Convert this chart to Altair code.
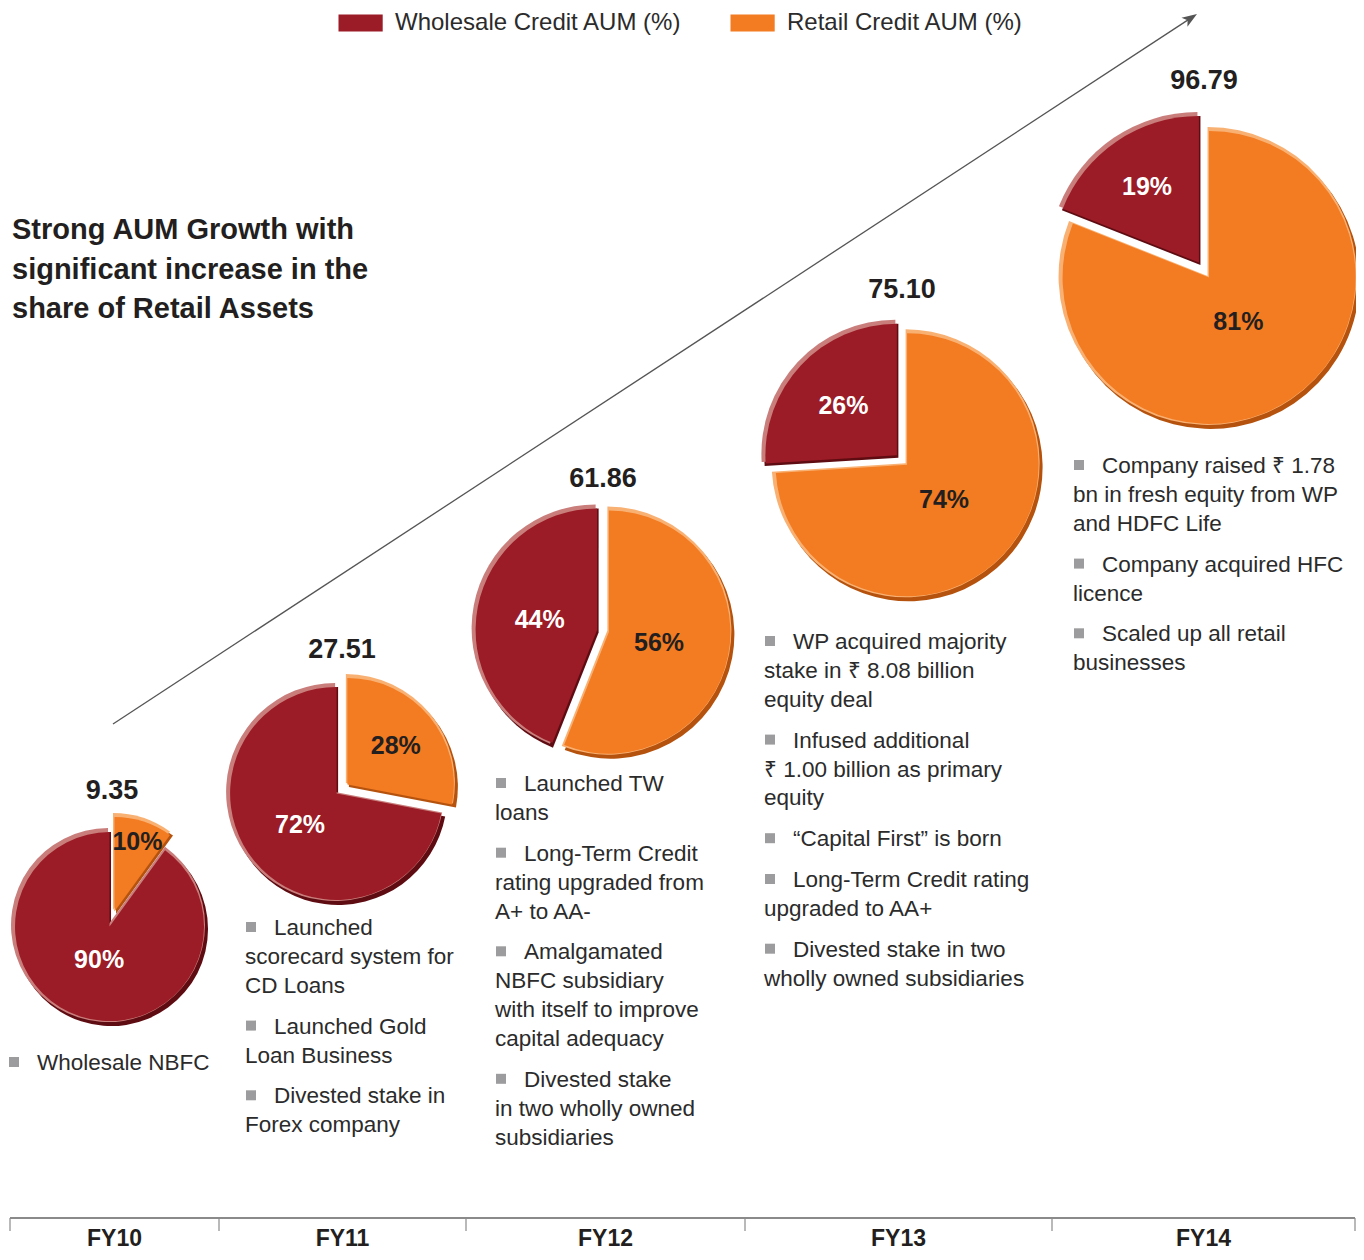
import math
import altair as alt
import pandas as pd

# ---------------- data ----------------
years = ["FY10", "FY11", "FY12", "FY13", "FY14"]
aum = [9.35, 27.51, 61.86, 75.10, 96.79]
wholesale_pct = [90, 72, 44, 26, 19]
retail_pct = [10, 28, 56, 74, 81]
segments = ["Wholesale Credit AUM (%)", "Retail Credit AUM (%)"]
title_lines = ["Strong AUM Growth with", "significant increase in the", "share of Retail Assets"]
milestones = [
    [["Wholesale NBFC"]],
    [["Launched", "scorecard system for", "CD Loans"],
     ["Launched Gold", "Loan Business"],
     ["Divested stake in", "Forex company"]],
    [["Launched TW", "loans"],
     ["Long-Term Credit", "rating upgraded from", "A+ to AA-"],
     ["Amalgamated", "NBFC subsidiary", "with itself to improve", "capital adequacy"],
     ["Divested stake", "in two wholly owned", "subsidiaries"]],
    [["WP acquired majority", "stake in \u20b9 8.08 billion", "equity deal"],
     ["Infused additional", "\u20b9 1.00 billion as primary", "equity"],
     ["\u201cCapital First\u201d is born"],
     ["Long-Term Credit rating", "upgraded to AA+"],
     ["Divested stake in two", "wholly owned subsidiaries"]],
    [["Company raised \u20b9 1.78", "bn in fresh equity from WP", "and HDFC Life"],
     ["Company acquired HFC", "licence"],
     ["Scaled up all retail", "businesses"]],
]

# ---------------- layout (page pixel positions) ----------------
W, H, OFF = 1348, 1244, 8
pie_cx = [112, 342, 603, 902, 1204]
pie_cy = [919, 789, 631, 460, 270]
pie_r = [97, 109, 124, 134, 149]
explode = [8, 7, 6, 7, 9]
lab_frac_w = [0.43, 0.50, 0.52, 0.60, 0.68]
lab_frac_r = [0.85, 0.64, 0.46, 0.43, 0.41]
value_y = [799, 658, 487, 298, 89]
block_left = [8, 245, 495, 764, 1073]
block_top = [1062, 927, 783, 641, 465]
LINE_H, PARA_GAP = 28.9, 11.9
axis_y, tick_len = 1218, 13
axis_bounds = [10, 219, 466, 745, 1052, 1355]
fy_bottom = 1251
arrow_start, arrow_tip = (113, 724), (1197, 14)
title_x, title_y0, title_lh = 12, 239, 39.5

RED, ORANGE = "#9B1B26", "#F37B21"
DARK = {segments[0]: "#5E0C12", segments[1]: "#B5530E"}
LIGHT = {segments[0]: "#C97E7C", segments[1]: "#F9B173"}
TXT = "#2B2B2B"
BOLD = "Liberation Sans, Arial, sans-serif"
SANS = "Liberation Sans, Arial, sans-serif"

xs = alt.Scale(domain=[OFF, OFF + W], range=[0, W], nice=False, zero=False)
ys = alt.Scale(domain=[OFF, OFF + H], range=[0, H], nice=False, zero=False)


def X(f):
    return alt.X(f, type="quantitative", scale=xs, axis=None)


def Y(f):
    return alt.Y(f, type="quantitative", scale=ys, axis=None)


# ---------------- slices ----------------
slices, plabels = [], []
for i, yr in enumerate(years):
    rt = retail_pct[i] / 100 * 2 * math.pi
    parts = [(segments[1], retail_pct[i], 0.0, rt, lab_frac_r[i], "#231F20"),
             (segments[0], wholesale_pct[i], rt, 2 * math.pi, lab_frac_w[i], "#FFFFFF")]
    for seg, pct, t0, t1, frac, tc in parts:
        mid = (t0 + t1) / 2
        dx, dy = math.sin(mid), -math.cos(mid)
        sx = pie_cx[i] + explode[i] * dx
        sy = pie_cy[i] + explode[i] * dy
        slices.append(dict(year=yr, seg=seg, pct=pct, t0=t0, t1=t1, r=pie_r[i],
                           ri=pie_r[i] - 2.5, sx=sx, sy=sy,
                           dx_=sx + 1.5, dy_=sy + 2.5, lx=sx - 1.5, ly=sy - 1.5,
                           dark=DARK[seg], light=LIGHT[seg]))
        plabels.append(dict(x=pie_cx[i] + frac * pie_r[i] * dx,
                            y=pie_cy[i] + frac * pie_r[i] * dy + 9,
                            t=f"{pct}%", tc=tc))
sdf = pd.DataFrame(slices)
pldf = pd.DataFrame(plabels)

theta = alt.Theta("t0:Q", scale=None, stack=None)
theta2 = alt.Theta2("t1:Q")

shadow = alt.Chart(sdf).mark_arc().encode(
    x=X("dx_"), y=Y("dy_"), theta=theta, theta2=theta2,
    radius=alt.Radius("r:Q", scale=None), fill=alt.Fill("dark:N", scale=None))
highlight = alt.Chart(sdf).mark_arc().encode(
    x=X("lx"), y=Y("ly"), theta=theta, theta2=theta2,
    radius=alt.Radius("r:Q", scale=None), fill=alt.Fill("light:N", scale=None))
main = alt.Chart(sdf).mark_arc().encode(
    x=X("sx"), y=Y("sy"), theta=theta, theta2=theta2,
    radius=alt.Radius("ri:Q", scale=None),
    color=alt.Color("seg:N", scale=alt.Scale(domain=segments, range=[RED, ORANGE]),
                    legend=alt.Legend(orient="none", legendX=340.6, legendY=3,
                                      direction="horizontal", title=None,
                                      symbolType="M-2.6,-1H2.6V1H-2.6Z", symbolSize=289,
                                      symbolStrokeWidth=0, symbolOpacity=1,
                                      labelFont=SANS, labelFontSize=24, labelColor=TXT,
                                      labelOffset=22.4, columnPadding=47, padding=0,
                                      labelLimit=400)),
    tooltip=["year:N", "seg:N", "pct:Q"])

pct_text = alt.Chart(pldf).mark_text(font=BOLD, fontSize=25, fontWeight="bold",
                                     align="center", baseline="alphabetic").encode(
    x=X("x"), y=Y("y"), text="t:N", fill=alt.Fill("tc:N", scale=None))

vdf = pd.DataFrame(dict(x=pie_cx, y=value_y, t=[f"{v:.2f}" for v in aum]))
val_text = alt.Chart(vdf).mark_text(font=BOLD, fontSize=27, fontWeight="bold",
                                    align="center", baseline="alphabetic",
                                    color="#231F20").encode(x=X("x"), y=Y("y"), text="t:N")

# ---------------- title ----------------
tdf = pd.DataFrame(dict(x=[title_x] * 3, y=[title_y0 + k * title_lh for k in range(3)],
                        t=title_lines))
title = alt.Chart(tdf).mark_text(font=SANS, fontSize=29, fontWeight="bold", align="left",
                                 baseline="alphabetic", color="#231F20").encode(
    x=X("x"), y=Y("y"), text="t:N")

# ---------------- milestones ----------------
rows, bullets = [], []
for i, blocks in enumerate(milestones):
    yy = block_top[i]
    for b in blocks:
        bullets.append(dict(x=block_left[i] + 6, y=yy))
        for j, line in enumerate(b):
            rows.append(dict(x=block_left[i] + (29 if j == 0 else 0), y=yy + 8, t=line))
            yy += LINE_H
        yy += PARA_GAP
mdf = pd.DataFrame(rows)
bdf = pd.DataFrame(bullets)
mtext = alt.Chart(mdf).mark_text(font=SANS, fontSize=22.5, align="left", baseline="alphabetic",
                                 color=TXT).encode(x=X("x"), y=Y("y"), text="t:N")
mbul = alt.Chart(bdf).mark_square(size=100, color="#9C9C9E", opacity=1).encode(
    x=X("x"), y=Y("y"))

# ---------------- arrow ----------------
adx, ady = arrow_tip[0] - arrow_start[0], arrow_tip[1] - arrow_start[1]
alen = math.hypot(adx, ady)
ux, uy = adx / alen, ady / alen
head_len = 15
hc = (arrow_tip[0] - ux * head_len / 2, arrow_tip[1] - uy * head_len / 2)
ang = math.degrees(math.atan2(ux, -uy))
ardf = pd.DataFrame(dict(x=[arrow_start[0]], y=[arrow_start[1]], x2=[hc[0]], y2=[hc[1]]))
arrow = alt.Chart(ardf).mark_rule(color="#555555", strokeWidth=1.3).encode(
    x=X("x"), y=Y("y"), x2="x2:Q", y2="y2:Q")
hdf = pd.DataFrame(dict(x=[hc[0]], y=[hc[1]]))
head = alt.Chart(hdf).mark_point(shape="M0,-1L0.72,1L0,0.5L-0.72,1Z", filled=True,
                                 size=head_len ** 2, angle=ang, color="#555555",
                                 opacity=1).encode(x=X("x"), y=Y("y"))

# ---------------- bottom timeline ----------------
axdf = pd.DataFrame(dict(x=[axis_bounds[0]], x2=[axis_bounds[-1]], y=[axis_y]))
axline = alt.Chart(axdf).mark_rule(color="#8A8A8A", strokeWidth=2).encode(
    x=X("x"), x2="x2:Q", y=Y("y"))
tkdf = pd.DataFrame(dict(x=axis_bounds, y=[axis_y] * len(axis_bounds),
                         y2=[axis_y + tick_len] * len(axis_bounds)))
ticks = alt.Chart(tkdf).mark_rule(color="#8A8A8A", strokeWidth=1.2).encode(
    x=X("x"), y=Y("y"), y2="y2:Q")
fydf = pd.DataFrame(dict(x=[(axis_bounds[k] + axis_bounds[k + 1]) / 2 for k in range(5)],
                         y=[fy_bottom] * 5, t=years))
fytext = alt.Chart(fydf).mark_text(font=BOLD, fontSize=23, fontWeight="bold",
                                   align="center", baseline="bottom",
                                   color="#231F20").encode(x=X("x"), y=Y("y"), text="t:N")

chart = alt.layer(arrow, head, shadow, highlight, main, pct_text, val_text, title,
                  mbul, mtext, axline, ticks, fytext).properties(
    width=W, height=H, padding=0, background="white", autosize="none"
).configure_view(stroke=None)

chart.save("out.html", embed_options={"renderer": "svg", "actions": False})
